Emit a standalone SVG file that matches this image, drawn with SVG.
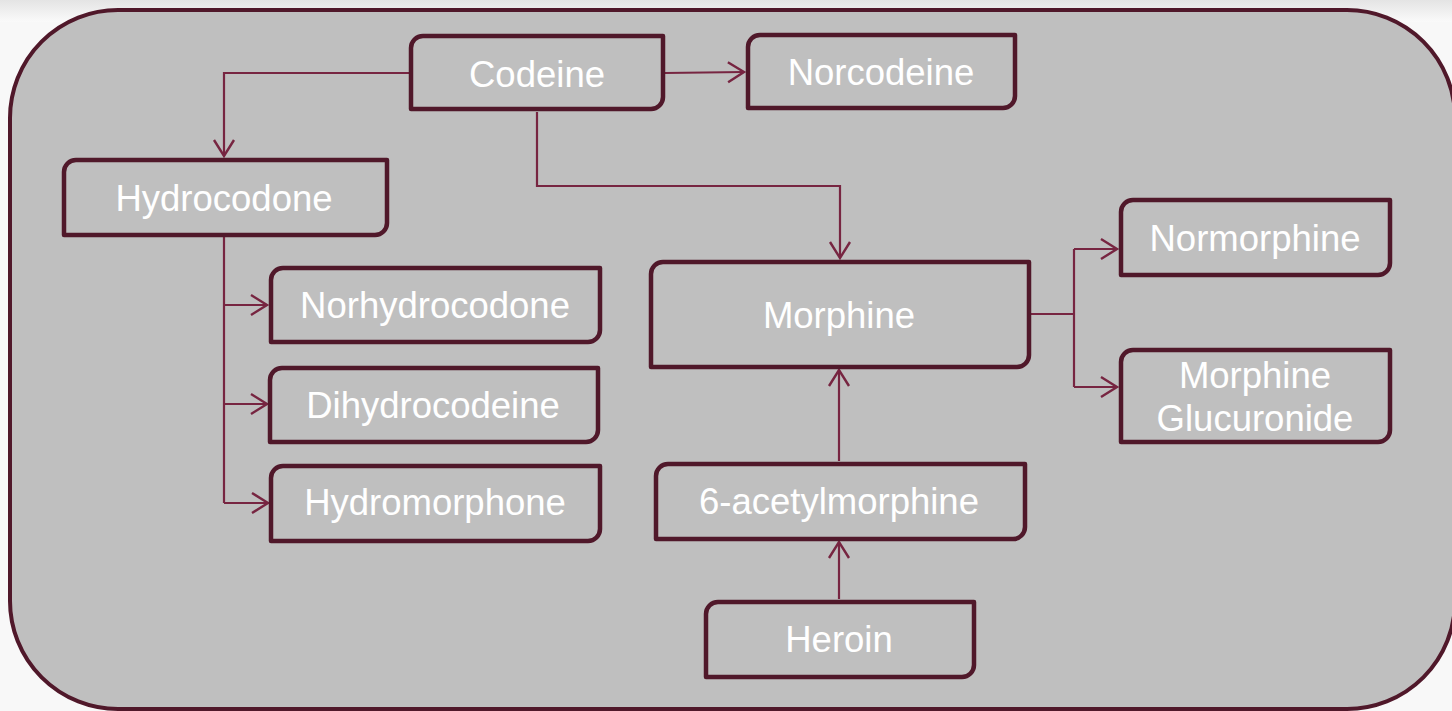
<svg xmlns="http://www.w3.org/2000/svg" width="1452" height="711" viewBox="0 0 1452 711">
<style>
.box{fill:none;stroke:#50182a;stroke-width:4.5;stroke-linejoin:round}
.lbl{fill:#ffffff;font-family:"Liberation Sans",Arial,sans-serif;font-size:36.5px;text-anchor:middle;dominant-baseline:central}
.con{fill:none;stroke:#772541;stroke-width:2.2}
</style>
<defs>
<linearGradient id="topg" x1="0" y1="0" x2="0" y2="1">
<stop offset="0" stop-color="#e4e4e4"/>
<stop offset="1" stop-color="#fafafa"/>
</linearGradient>
<marker id="arr" markerUnits="userSpaceOnUse" markerWidth="24" markerHeight="26" viewBox="0 0 24 26" refX="19" refY="13" orient="auto">
<path d="M3,3 L19,13 L3,23" fill="none" stroke="#772541" stroke-width="2.4"/>
</marker>
</defs>
<rect x="0" y="0" width="1452" height="711" fill="#f8f8f8"/>
<rect x="0" y="0" width="1452" height="22" fill="url(#topg)"/>
<rect x="10" y="10" width="1445" height="699" rx="108" ry="108" fill="#bfbfbf" stroke="#50182a" stroke-width="4"/>

<g id="connectors">
<path class="con" d="M410,73 H224 V156" marker-end="url(#arr)"/>
<path class="con" d="M665,73 L744,72" marker-end="url(#arr)"/>
<path class="con" d="M537,112 V186 H840 V258" marker-end="url(#arr)"/>
<path class="con" d="M224,237 V503"/>
<path class="con" d="M224,305 H267" marker-end="url(#arr)"/>
<path class="con" d="M224,404 H267" marker-end="url(#arr)"/>
<path class="con" d="M224,503 H268" marker-end="url(#arr)"/>
<path class="con" d="M1031,314 H1074"/>
<path class="con" d="M1074,249 V387"/>
<path class="con" d="M1074,249 H1117" marker-end="url(#arr)"/>
<path class="con" d="M1074,387 H1117" marker-end="url(#arr)"/>
<path class="con" d="M839,461 V370" marker-end="url(#arr)"/>
<path class="con" d="M839,599 V542" marker-end="url(#arr)"/>
</g>

<g id="codeine">
<path class="box" d="M423,36 H663 V97 A12,12 0 0 1 651,109 H411 V48 A12,12 0 0 1 423,36 Z"/>
<text class="lbl" x="537" y="74">Codeine</text>
</g>
<g id="norcodeine">
<path class="box" d="M760,35 H1015 V96 A12,12 0 0 1 1003,108 H748 V47 A12,12 0 0 1 760,35 Z"/>
<text class="lbl" x="881" y="72">Norcodeine</text>
</g>
<g id="hydrocodone">
<path class="box" d="M76,160 H387 V223 A12,12 0 0 1 375,235 H64 V172 A12,12 0 0 1 76,160 Z"/>
<text class="lbl" x="224" y="198">Hydrocodone</text>
</g>
<g id="norhydrocodone">
<path class="box" d="M283,268 H600 V330 A12,12 0 0 1 588,342 H271 V280 A12,12 0 0 1 283,268 Z"/>
<text class="lbl" x="435" y="305">Norhydrocodone</text>
</g>
<g id="dihydrocodeine">
<path class="box" d="M282,368 H598 V430 A12,12 0 0 1 586,442 H270 V380 A12,12 0 0 1 282,368 Z"/>
<text class="lbl" x="433" y="405">Dihydrocodeine</text>
</g>
<g id="hydromorphone">
<path class="box" d="M283,466 H600 V529 A12,12 0 0 1 588,541 H271 V478 A12,12 0 0 1 283,466 Z"/>
<text class="lbl" x="435" y="502">Hydromorphone</text>
</g>
<g id="morphine">
<path class="box" d="M663,262 H1029 V355 A12,12 0 0 1 1017,367 H651 V274 A12,12 0 0 1 663,262 Z"/>
<text class="lbl" x="839" y="315">Morphine</text>
</g>
<g id="normorphine">
<path class="box" d="M1133,200 H1390 V263 A12,12 0 0 1 1378,275 H1121 V212 A12,12 0 0 1 1133,200 Z"/>
<text class="lbl" x="1255" y="238">Normorphine</text>
</g>
<g id="morphine-glucuronide">
<path class="box" d="M1133,350 H1390 V430 A12,12 0 0 1 1378,442 H1121 V362 A12,12 0 0 1 1133,350 Z"/>
<text class="lbl" x="1255" y="375">Morphine</text>
<text class="lbl" x="1255" y="418">Glucuronide</text>
</g>
<g id="acetylmorphine">
<path class="box" d="M668,464 H1025 V527 A12,12 0 0 1 1013,539 H656 V476 A12,12 0 0 1 668,464 Z"/>
<text class="lbl" x="839" y="501">6-acetylmorphine</text>
</g>
<g id="heroin">
<path class="box" d="M718,602 H974 V665 A12,12 0 0 1 962,677 H706 V614 A12,12 0 0 1 718,602 Z"/>
<text class="lbl" x="839" y="639">Heroin</text>
</g>
</svg>
